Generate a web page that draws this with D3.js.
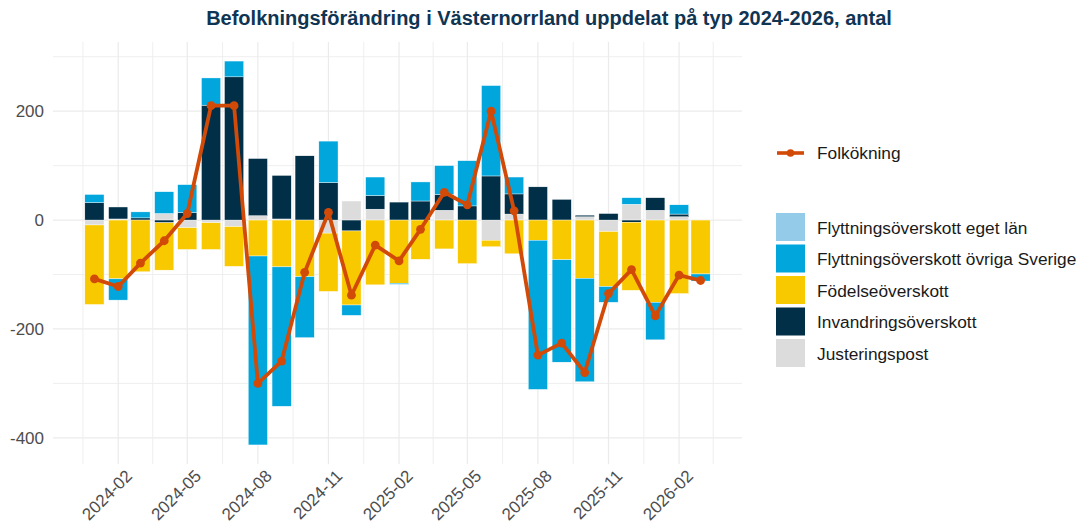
<!DOCTYPE html>
<html>
<head>
<meta charset="utf-8">
<script src="https://cdn.jsdelivr.net/npm/d3@7"></script>
<style>
  body { margin: 0; background: #fff; }
  text { font-family: "Liberation Sans", Arial, sans-serif; }
</style>
</head>
<body>
<div id="chart"></div>
<script>
// monthly data
const months = ["2024-01","2024-02","2024-03","2024-04","2024-05","2024-06","2024-07","2024-08","2024-09",
  "2024-10","2024-11","2024-12","2025-01","2025-02","2025-03","2025-04","2025-05","2025-06","2025-07",
  "2025-08","2025-09","2025-10","2025-11","2025-12","2026-01","2026-02","2026-03"];
const egetLan     = [0,0,0,0,0,0,0,0,0,0,0,0,0,0,0,0,0,0,0,0,0,0,0,0,0,0,0];
const ovrigaSverige = [15,-39,11,40,51,50,29,-347,-256,-112,76,-19,34,-2,35,53,83,166,31,-274,-188,-190,-29,12,-69,17,-13];
const fodelse     = [-146,-108,-95,-87,-40,-49,-73,-66,-86,-104,-107,-136,-119,-116,-72,-53,-80,-12,-62,-37,-73,-107,-101,-125,-151,-135,-99];
const invandring  = [32,22,4,-5,14,211,263,105,80,118,69,-20,25,33,35,29,26,81,37,61,38,3,12,-4,23,5,0];
const justering   = [-9,2,0,12,-14,-5,-12,8,2,0,-24,35,20,0,0,18,0,-37,11,0,0,6,-21,29,18,6,1];
const folkokning  = [-108,-122,-79,-38,12,210,210,-300,-259,-96,14,-138,-46,-75,-17,51,28,200,17,-248,-226,-280,-135,-91,-176,-101,-111];

const yTicks = [-400, -200, 0, 200];
const xTickLabels = ["2024-02","2024-05","2024-08","2024-11","2025-02","2025-05","2025-08","2025-11","2026-02"];

const seriesNames = ["Flyttningsöverskott eget län","Flyttningsöverskott övriga Sverige","Födelseöverskott","Invandringsöverskott","Justeringspost"];
const colors = ["#93cbe8","#00a6dc","#f9c900","#002f47","#dcdcdc"];
const lineColor = "#d24a07";

document.addEventListener('DOMContentLoaded', function () {
  const W = 1084, H = 530;
  const panel = {left: 53, right: 742, top: 42, bottom: 464};

  const svg = d3.select("#chart").append("svg")
    .attr("width", W).attr("height", H);

  const parse = d3.timeParse("%Y-%m");
  const dates = months.map(parse);

  // rows for stacking
  const data = months.map((m, i) => ({
    date: dates[i],
    "Justeringspost": justering[i],
    "Invandringsöverskott": invandring[i],
    "Födelseöverskott": fodelse[i],
    "Flyttningsöverskott övriga Sverige": ovrigaSverige[i],
    "Flyttningsöverskott eget län": egetLan[i]
  }));

  // closest to zero first
  const stackKeys = seriesNames.slice().reverse();
  const stacked = d3.stack().keys(stackKeys).offset(d3.stackOffsetDiverging)(data);
  const color = d3.scaleOrdinal().domain(seriesNames).range(colors);

  const x = d3.scaleTime()
    .domain([d3.timeDay.offset(dates[0], -54), d3.timeDay.offset(dates[dates.length - 1], 54)])
    .range([panel.left, panel.right]);
  const y = d3.scaleLinear()
    .domain([-448, 327])
    .range([panel.bottom, panel.top]);

  // grid
  const majors = xTickLabels.map(parse);
  const minors = [];
  const allMajor = [d3.timeMonth.offset(majors[0], -3)].concat(majors, [d3.timeMonth.offset(majors[majors.length - 1], 3)]);
  for (let i = 0; i < allMajor.length - 1; i++) {
    minors.push(new Date((allMajor[i].getTime() + allMajor[i + 1].getTime()) / 2));
  }
  const grid = svg.append("g");
  grid.selectAll(".ymin").data([-300, -100, 100, 300]).join("line")
    .attr("x1", panel.left).attr("x2", panel.right)
    .attr("y1", d => y(d)).attr("y2", d => y(d))
    .attr("stroke", "#ededed").attr("stroke-width", 0.9);
  grid.selectAll(".ymaj").data(yTicks).join("line")
    .attr("x1", panel.left).attr("x2", panel.right)
    .attr("y1", d => y(d)).attr("y2", d => y(d))
    .attr("stroke", "#ebebeb").attr("stroke-width", 1.2);
  grid.selectAll(".xmin").data(minors.filter(d => x(d) > panel.left && x(d) < panel.right)).join("line")
    .attr("x1", d => x(d)).attr("x2", d => x(d))
    .attr("y1", panel.top).attr("y2", panel.bottom)
    .attr("stroke", "#ededed").attr("stroke-width", 0.9);
  grid.selectAll(".xmaj").data(majors).join("line")
    .attr("x1", d => x(d)).attr("x2", d => x(d))
    .attr("y1", panel.top).attr("y2", panel.bottom)
    .attr("stroke", "#ebebeb").attr("stroke-width", 1.2);

  // bars
  const barW = x(d3.timeDay.offset(dates[0], 25)) - x(dates[0]);
  svg.append("g").selectAll("g")
    .data(stacked)
    .join("g")
      .attr("fill", d => color(d.key))
    .selectAll("rect")
    .data(d => d)
    .join("rect")
      .attr("x", d => x(d.data.date) - barW / 2)
      .attr("width", barW)
      .attr("y", d => y(Math.max(d[0], d[1])))
      .attr("height", d => Math.abs(y(d[0]) - y(d[1])))
      .attr("stroke", "#fff")
      .attr("stroke-width", 0.4);

  // Folkökning line
  const line = d3.line()
    .x((d, i) => x(dates[i]))
    .y(d => y(d));
  svg.append("path")
    .datum(folkokning)
    .attr("fill", "none")
    .attr("stroke", lineColor)
    .attr("stroke-width", 3.8)
    .attr("stroke-linejoin", "round")
    .attr("d", line);
  svg.append("g").selectAll("circle")
    .data(folkokning)
    .join("circle")
      .attr("cx", (d, i) => x(dates[i]))
      .attr("cy", d => y(d))
      .attr("r", 4.4)
      .attr("fill", lineColor);

  // y axis labels
  svg.append("g").selectAll("text")
    .data(yTicks)
    .join("text")
      .attr("x", 44)
      .attr("y", d => y(d))
      .attr("dy", "0.35em")
      .attr("text-anchor", "end")
      .style("font-size", "17px")
      .style("fill", "#4d4d4d")
      .text(d => d);

  // x axis labels
  svg.append("g").selectAll("text")
    .data(majors)
    .join("text")
      .attr("transform", d => `translate(${x(d) + 6},${panel.bottom + 4}) rotate(-45)`)
      .attr("text-anchor", "end")
      .attr("dy", "0.75em")
      .style("font-size", "17px")
      .style("fill", "#4d4d4d")
      .text(d => d3.timeFormat("%Y-%m")(d));

  // title
  svg.append("text")
    .attr("x", 549)
    .attr("y", 25)
    .attr("text-anchor", "middle")
    .style("font-size", "20px")
    .style("font-weight", "bold")
    .style("fill", "#0f3553")
    .text("Befolkningsförändring i Västernorrland uppdelat på typ 2024-2026, antal");

  // legend: line
  const lg = svg.append("g");
  lg.append("line")
    .attr("x1", 777).attr("x2", 804).attr("y1", 153).attr("y2", 153)
    .attr("stroke", lineColor).attr("stroke-width", 3.6);
  lg.append("circle").attr("cx", 790.5).attr("cy", 153).attr("r", 3.8).attr("fill", lineColor);
  lg.append("text")
    .attr("x", 817).attr("y", 153).attr("dy", "0.35em")
    .style("font-size", "17.3px").style("fill", "#1a1a1a")
    .text("Folkökning");

  // legend: bars
  const size = 29;
  lg.selectAll("rect.key")
    .data(seriesNames)
    .join("rect")
      .attr("x", 776)
      .attr("y", (d, i) => 213 + i * 31.5)
      .attr("width", size)
      .attr("height", size - 1)
      .attr("fill", d => color(d));
  lg.selectAll("text.key")
    .data(seriesNames)
    .join("text")
      .attr("x", 817)
      .attr("y", (d, i) => 213 + i * 31.5 + size / 2)
      .attr("dy", "0.35em")
      .style("font-size", "17.3px")
      .style("fill", "#1a1a1a")
      .text(d => d);
});
</script>
</body>
</html>
